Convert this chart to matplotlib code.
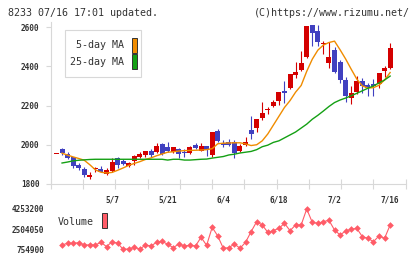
import numpy as np
import matplotlib
matplotlib.use("Agg")
import matplotlib.pyplot as plt
from matplotlib.patches import Rectangle

W, H = 420, 259

# daily candles (index 0 = first day shown)
opens = [1951, 1977, 1953, 1939, 1897, 1876, 1836, 1876, 1876, 1851,
         1866, 1931, 1917, 1892, 1919, 1938, 1948, 1968, 1961, 2005,
         1989, 1965, 1978, 1960, 1957, 2000, 1970, 1994, 1949, 2070,
         2007, 2014, 2014, 1970, 1997, 2075, 2087, 2138, 2177, 2197,
         2224, 2275, 2289, 2357, 2381, 2447, 2610, 2580, 2513, 2417,
         2483, 2422, 2330, 2238, 2269, 2325, 2304, 2310, 2310, 2376, 2391]
highs = [1951, 1982, 1961, 1939, 1909, 1888, 1863, 1888, 1892, 1880,
         1934, 1936, 1926, 1914, 1948, 1965, 1968, 1977, 2010, 2010,
         2015, 1989, 1983, 1977, 1994, 2010, 2010, 1994, 2065, 2080,
         2024, 2029, 2024, 2004, 2038, 2147, 2131, 2218, 2194, 2230,
         2269, 2323, 2360, 2422, 2479, 2605, 2610, 2610, 2530, 2526,
         2498, 2432, 2345, 2299, 2350, 2340, 2315, 2335, 2366, 2401, 2519]
lows = [1951, 1948, 1927, 1882, 1871, 1836, 1824, 1860, 1860, 1846,
        1863, 1883, 1897, 1888, 1897, 1931, 1940, 1939, 1956, 1948,
        1965, 1960, 1935, 1939, 1953, 1977, 1966, 1943, 1939, 2015,
        1987, 1994, 1934, 1965, 1994, 2029, 2066, 2126, 2157, 2191,
        2204, 2213, 2284, 2340, 2374, 2442, 2505, 2503, 2462, 2391,
        2366, 2315, 2218, 2208, 2259, 2264, 2248, 2248, 2289, 2345, 2386]
closes = [1951, 1960, 1934, 1892, 1883, 1846, 1846, 1880, 1860, 1871,
          1912, 1897, 1900, 1909, 1943, 1954, 1968, 1949, 1994, 1954,
          1968, 1989, 1951, 1957, 1989, 1985, 1994, 1973, 2065, 2019,
          2000, 2000, 1956, 1994, 2014, 2056, 2131, 2163, 2182, 2218,
          2269, 2262, 2360, 2371, 2417, 2605, 2570, 2524, 2515, 2447,
          2371, 2330, 2248, 2264, 2325, 2299, 2289, 2299, 2366, 2391, 2493]

# moving averages and volume, days 1..60
ma5 = [1957, 1947, 1938, 1930, 1921, 1898, 1872, 1860, 1856, 1859,
       1870, 1882, 1895, 1905, 1914, 1925, 1933, 1944, 1953, 1962,
       1964, 1968, 1970, 1971, 1972, 1973, 1975, 1980, 2005, 2008,
       2009, 2010, 2010, 2004, 1996, 2000, 2020, 2055, 2100, 2145,
       2190, 2225, 2268, 2302, 2374, 2436, 2482, 2508, 2521, 2528,
       2484, 2437, 2385, 2335, 2300, 2289, 2291, 2303, 2330, 2368]
ma25 = [1907, 1912, 1918, 1921, 1923, 1925, 1926, 1926, 1926, 1926,
        1926, 1926, 1926, 1926, 1926, 1926, 1926, 1926, 1926, 1922,
        1926, 1926, 1922, 1922, 1924, 1926, 1927, 1932, 1936, 1940,
        1948, 1952, 1958, 1962, 1966, 1975, 1990, 1998, 2012, 2020,
        2035, 2050, 2065, 2085, 2105, 2130, 2150, 2172, 2195, 2215,
        2228, 2238, 2250, 2262, 2275, 2288, 2300, 2315, 2330, 2350]
volume = [1131000, 1275000, 1275000, 1333000, 1131000, 1131000, 1131000, 1362000, 986000, 1420000,
          1275000, 754900, 780000, 928000, 770000, 1131000, 1044000, 1362000, 1449000, 1189000,
          899000, 1217000, 1044000, 1102000, 1044000, 1796000, 1102000, 2663000, 1911000, 842000,
          899000, 1217000, 842000, 1362000, 2287000, 3155000, 2865000, 2229000, 2374000, 2576000,
          3010000, 2374000, 2865000, 2865000, 4253200, 3097000, 3010000, 3155000, 3270000, 2432000,
          1998000, 2345000, 2490000, 2576000, 1854000, 1709000, 1420000, 1911000, 1709000, 2865000]

date_labels = ["5/7", "5/21", "6/4", "6/18", "7/2", "7/16"]
price_ticks = [1800, 2000, 2200, 2400, 2600]

RED = "#d40000"
BLUE = "#4040c0"
ORANGE = "#f08c00"
GREEN = "#14a014"
VOLC = "#ff5c68"
GRID = "#d8d8d8"
TXT = "#333333"
MONO = "DejaVu Sans Mono"


def rect(l, t, r, b):
    return [l / W, 1 - b / H, (r - l) / W, (b - t) / H]


fig = plt.figure(figsize=(W / 100, H / 100), dpi=100)
fig.patch.set_facecolor("white")

xlim = (-1.04, 62.8)

# ---- price panel
ax = fig.add_axes(rect(50.7, 22, 405.7, 184))
o, h, l, c = map(np.array, (opens, highs, lows, closes))
x = np.arange(len(o))
cols = np.where(c >= o, RED, BLUE)
ax.vlines(x, l, h, colors=cols, linewidth=0.8)
lo = np.minimum(o, c)
ht = np.maximum(np.abs(c - o), 5)
ax.bar(x, ht, bottom=lo, width=0.9, color=cols, linewidth=0)

xm = np.arange(1, len(ma5) + 1)
ax.plot(xm, ma5, color=ORANGE, linewidth=1.0)
ax.plot(xm, ma25, color=GREEN, linewidth=1.0)

ax.set_xlim(*xlim)
ax.set_ylim(1800, 2625.5)
ax.set_yticks(price_ticks)
ax.set_yticklabels([str(v) for v in price_ticks], fontsize=5.6, family=MONO,
                   weight="bold", color=TXT)
ax.tick_params(axis="y", length=3.6, width=0.8, color=GRID, pad=4.6)
lab_idx = np.arange(10, 10 * len(date_labels) + 1, 10)
ax.set_xticks(lab_idx)
ax.set_xticklabels(date_labels, fontsize=5.6, family=MONO, weight="bold", color=TXT)
ax.tick_params(axis="x", which="major", length=0, pad=8)
ax.set_xticks(np.linspace(xlim[0], xlim[1], 12), minor=True)
ax.tick_params(axis="x", which="minor", direction="inout", length=6.5, width=0.8, color=GRID)
for s in ("top", "right"):
    ax.spines[s].set_visible(False)
for s in ("left", "bottom"):
    ax.spines[s].set_color(GRID)
    ax.spines[s].set_linewidth(0.8)

# legend box
fig.patches.append(Rectangle((65 / W, 1 - 77 / H), 76 / W, 47 / H, transform=fig.transFigure,
                             facecolor="white", edgecolor=GRID, linewidth=0.8, zorder=5))
for label, col, yc in (("5-day MA", ORANGE, 45), ("25-day MA", GREEN, 61.7)):
    fig.text(124 / W, 1 - yc / H, label, ha="right", va="center", fontsize=7.2,
             family=MONO, color=TXT, zorder=6)
    fig.patches.append(Rectangle((131.7 / W, 1 - (yc + 7.5) / H), 5.6 / W, 15 / H,
                                 transform=fig.transFigure, facecolor=col,
                                 edgecolor=TXT, linewidth=0.7, zorder=6))

# ---- volume panel
av = fig.add_axes(rect(50.7, 209, 405.7, 249.3))
av.plot(xm, volume, color=VOLC, linewidth=0.8, marker="D", markersize=3.4,
        markeredgewidth=0, clip_on=False)
vmin, vmax = min(volume), max(volume)
vt = [vmin, (vmin + vmax) / 2, vmax]
av.set_xlim(*xlim)
av.set_ylim(vmin, vmax)
av.set_yticks(vt)
av.set_yticklabels([str(int(v)) for v in vt], fontsize=5.6, family=MONO,
                   weight="bold", color=TXT)
av.tick_params(axis="y", length=0, pad=4.8)
av.set_xticks([])
for s in av.spines.values():
    s.set_visible(False)
av.patch.set_alpha(0)

fig.text(58 / W, 1 - 222.3 / H, "Volume", ha="left", va="center", fontsize=7.2,
         family=MONO, color=TXT)
fig.patches.append(Rectangle((101.7 / W, 1 - 228.3 / H), 5.6 / W, 15 / H,
                             transform=fig.transFigure, facecolor=VOLC,
                             edgecolor=TXT, linewidth=0.7))

# header
fig.text(8 / W, 1 - 12.5 / H, "8233 07/16 17:01 updated.", ha="left", va="center",
         fontsize=7.2, family=MONO, color=TXT)
fig.text(410 / W, 1 - 12.5 / H, "(C)https://www.rizumu.net/", ha="right", va="center",
         fontsize=7.2, family=MONO, color=TXT)

fig.savefig("out.png", dpi=100)
